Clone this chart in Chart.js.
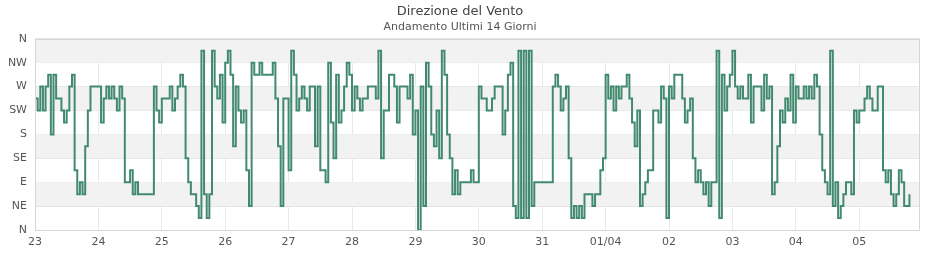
<!DOCTYPE html>
<html>
<head>
<meta charset="utf-8">
<script src="https://cdn.jsdelivr.net/npm/chart.js@4"></script>
<style>
html,body{margin:0;padding:0;background:#fff;}
#wrap{width:940px;height:260px;}
</style>
</head>
<body>
<div id="wrap"><canvas id="c" width="940" height="260"></canvas></div>
<script>
// Day tick labels
const dayLabels = ['23','24','25','26','27','28','29','30','31','01/04','02','03','04','05'];
// Direction tick labels (every 45 degrees, from 0 to 360)
const dirLabels = ['N','NE','E','SE','S','SW','W','NW','N'];

// Hourly wind direction (degrees), one array per day
const d23 = [247.5,225,270,225,270,292.5,180,292.5,247.5,247.5,225,202.5,225,270,292.5,112.5,67.5,90,67.5,157.5,225,270,270,270];
const d24 = [270,202.5,247.5,270,247.5,270,247.5,225,270,247.5,90,90,112.5,67.5,90,67.5,67.5,67.5,67.5,67.5,67.5,270,225,202.5];
const d25 = [247.5,247.5,247.5,270,225,247.5,270,292.5,270,135,90,67.5,67.5,45,22.5,337.5,67.5,22.5,67.5,337.5,270,247.5,292.5,202.5];
const d26 = [315,337.5,292.5,157.5,270,225,202.5,225,112.5,45,315,292.5,292.5,315,292.5,292.5,292.5,292.5,315,247.5,157.5,45,247.5,247.5];
const d27 = [112.5,337.5,292.5,225,247.5,270,247.5,225,270,270,157.5,270,112.5,112.5,90,315,202.5,135,292.5,202.5,225,270,315,292.5];
const d28 = [225,270,247.5,225,247.5,247.5,270,270,270,247.5,337.5,135,225,225,292.5,292.5,270,202.5,270,270,270,247.5,292.5,180];
const d29 = [225,0,270,45,315,270,180,157.5,225,135,337.5,292.5,180,135,67.5,112.5,67.5,90,90,90,90,112.5,90,90];
const d30 = [270,247.5,247.5,225,225,247.5,270,270,270,180,225,292.5,315,45,22.5,337.5,22.5,337.5,22.5,337.5,45,90,90,90];
const d31 = [90,90,90,90,270,292.5,270,225,247.5,270,135,22.5,45,22.5,45,22.5,67.5,67.5,67.5,45,67.5,67.5,112.5,135];
const d01 = [292.5,247.5,270,225,270,247.5,270,270,292.5,247.5,202.5,157.5,225,45,67.5,90,112.5,112.5,225,225,202.5,270,247.5,22.5];
const d02 = [270,247.5,292.5,292.5,292.5,247.5,202.5,225,247.5,135,90,112.5,90,67.5,90,45,90,90,337.5,22.5,292.5,225,270,292.5];
const d03 = [337.5,270,247.5,270,247.5,247.5,292.5,202.5,270,270,270,225,292.5,247.5,270,67.5,90,157.5,225,202.5,247.5,225,292.5,202.5];
const d04 = [270,247.5,247.5,270,247.5,270,247.5,292.5,270,180,112.5,90,67.5,337.5,45,90,22.5,45,67.5,90,90,67.5,225,202.5];
const d05 = [225,225,247.5,270,247.5,225,225,270,270,112.5,90,112.5,67.5,45,67.5,112.5,90,45,45,67.5];

const days = [d23,d24,d25,d26,d27,d28,d29,d30,d31,d01,d02,d03,d04,d05];
const points = [];
days.forEach((arr, di) => arr.forEach((v, h) => points.push({x: di * 24 + h, y: v})));

const bandPlugin = {
  id: 'bands',
  beforeDatasetsDraw(chart) {
    const {ctx, chartArea: a, scales: {y}} = chart;
    ctx.save();
    ctx.fillStyle = '#f2f2f2';
    for (let k = 1; k < 8; k += 2) {
      const top = y.getPixelForValue(45 * (k + 1));
      const bot = y.getPixelForValue(45 * k);
      ctx.fillRect(a.left, top, a.right - a.left, bot - top);
    }
    ctx.restore();
  },
  afterDatasetsDraw(chart) {
    const {ctx, chartArea: a} = chart;
    ctx.save();
    ctx.strokeStyle = '#d6d6d6';
    ctx.lineWidth = 1;
    ctx.strokeRect(Math.round(a.left) + 0.5, Math.round(a.top) + 0.5, Math.round(a.right - a.left) - 1, Math.round(a.bottom - a.top));
    ctx.restore();
  }
};

new Chart(document.getElementById('c'), {
  type: 'line',
  data: {
    datasets: [{
      data: points,
      borderColor: '#418a6f',
      borderWidth: 2,
      pointRadius: 0,
      stepped: true,
      fill: false
    }]
  },
  options: {
    responsive: false,
    animation: false,
    layout: {padding: {left: 0, right: 20, top: 0, bottom: 0}},
    plugins: {
      legend: {display: false},
      tooltip: {enabled: false},
      title: {
        display: true,
        text: 'Direzione del Vento',
        color: '#444',
        font: {family: 'DejaVu Sans', size: 13, weight: 'normal'},
        padding: {top: 4, bottom: 0}
      },
      subtitle: {
        display: true,
        text: 'Andamento Ultimi 14 Giorni',
        color: '#555',
        font: {family: 'DejaVu Sans', size: 11, weight: 'normal'},
        padding: {top: 1, bottom: 5}
      }
    },
    scales: {
      x: {
        type: 'linear',
        min: 0,
        max: 335,
        grid: {color: '#e8e8f4', drawTicks: false},
        border: {display: false},
        ticks: {
          stepSize: 24,
          includeBounds: false,
          autoSkip: false,
          maxRotation: 0,
          padding: 6,
          color: '#555',
          font: {family: 'DejaVu Sans', size: 11},
          callback: (v) => dayLabels[Math.round(v / 24)] ?? ''
        },
        afterFit: (s) => { s.height = 30; }
      },
      y: {
        min: 0,
        max: 360,
        grid: {color: '#e3e3e3', drawTicks: false},
        border: {display: false},
        ticks: {
          stepSize: 45,
          padding: 8,
          color: '#555',
          font: {family: 'DejaVu Sans', size: 11},
          callback: (v) => dirLabels[Math.round(v / 45)] ?? ''
        },
        afterFit: (s) => { s.width = 35; }
      }
    }
  },
  plugins: [bandPlugin]
});
</script>
</body>
</html>
